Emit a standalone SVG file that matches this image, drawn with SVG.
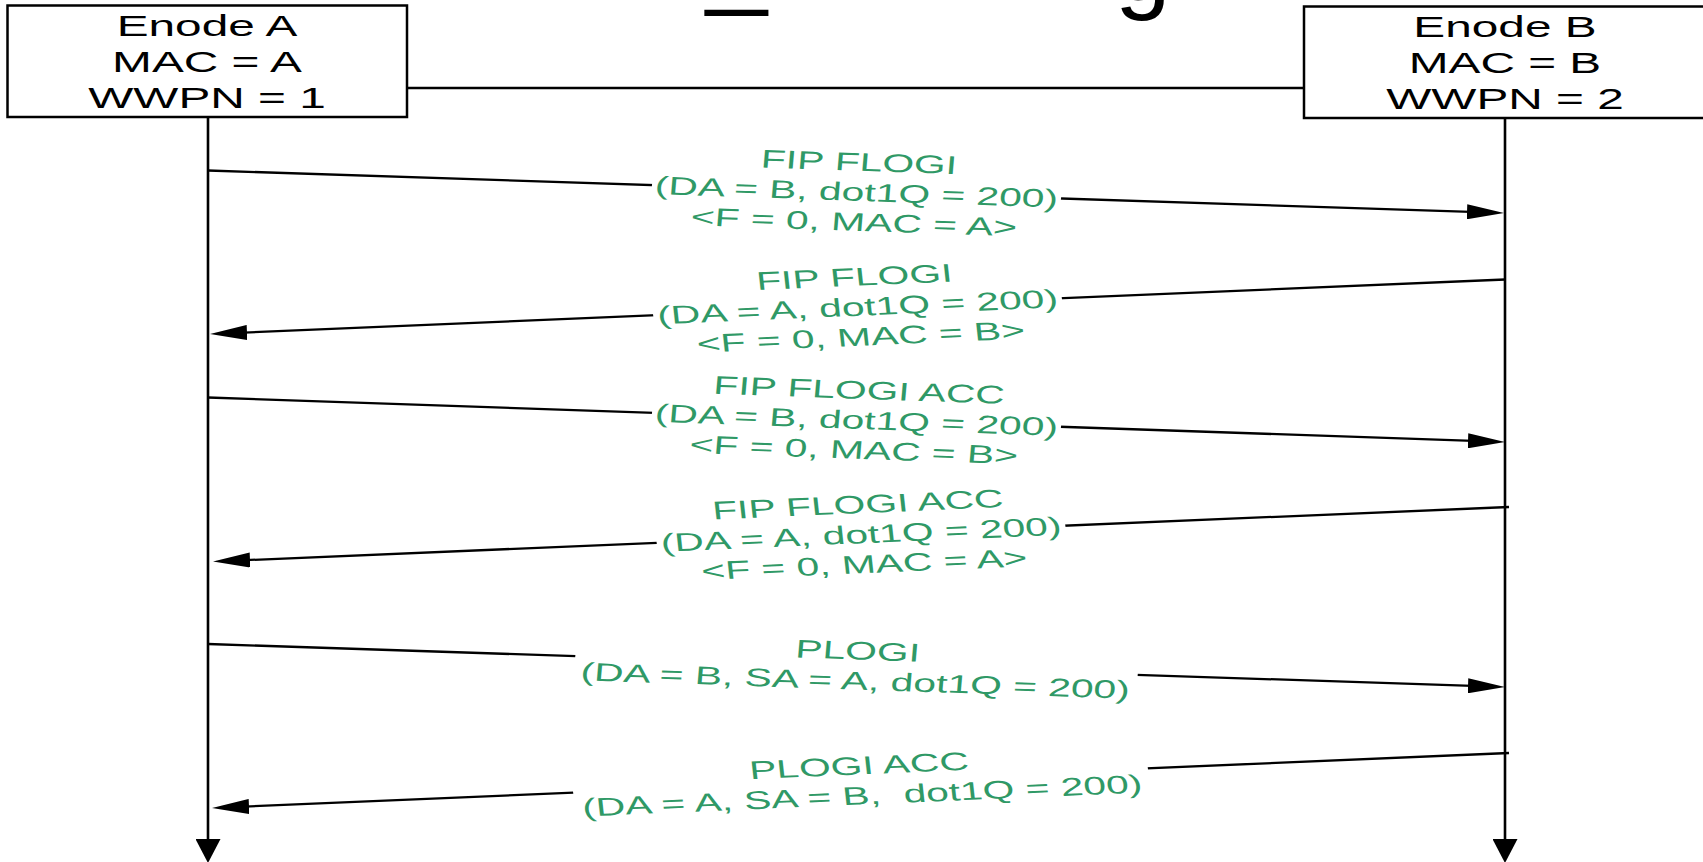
<svg xmlns="http://www.w3.org/2000/svg" width="1703" height="862" viewBox="0 0 1703 862">
<style>
.box{fill:#fff;stroke:#000;stroke-width:2.5}
.bt{font-family:"Liberation Sans",Arial,sans-serif;font-size:29.5px;text-anchor:middle;fill:#000}
.life{stroke:#000;stroke-width:2.6;fill:none;marker-end:url(#vhead)}
.link{stroke:#000;stroke-width:2.5;fill:none}
.msg{stroke:#000;stroke-width:2.3;fill:none;marker-end:url(#head)}
.lt{font-family:"Liberation Sans",Arial,sans-serif;font-size:25.5px;text-anchor:middle;fill:#2f9966}
.lbg{fill:#fff}
.title{font-family:"Liberation Sans",Arial,sans-serif;font-size:100px;fill:#000}
</style>
<defs>
<marker id="head" markerUnits="userSpaceOnUse" viewBox="0 0 37 15" markerWidth="37" markerHeight="15" refX="27" refY="7.5" orient="auto"><path d="M0,0 L37,7.5 L0,15 z" fill="#000"/></marker>
<marker id="vhead" markerUnits="userSpaceOnUse" viewBox="0 0 24 25" markerWidth="24" markerHeight="25" refX="14" refY="12.5" orient="auto"><path d="M0,0 L24,12.5 L0,25 z" fill="#000"/></marker>
</defs>
<rect width="1703" height="862" fill="#fff"/>
<g id="title-fragment">
<text class="title" transform="translate(706,-4) scale(1.1,1)" x="0" y="0">_</text>
<text class="title" transform="translate(1115,0)" x="0" y="0">g</text>
</g>
<g id="connectors">
<path class="life" d="M208,117 L208,853"/>
<path class="life" d="M1505,118 L1505,853"/>
<path class="link" d="M407,88 L1304,88"/>
<g id="msg1">
<path class="msg" d="M208,170.5 L1494,212.67"/>
<g transform="translate(856.5,191.75) scale(1.6,1) rotate(3.04)">
<rect class="lbg" x="-128" y="-44" width="256" height="90"/>
<text class="lt" x="0" y="-21">FIP FLOGI</text>
<text class="lt" x="0" y="9">(DA = B, dot1Q = 200)</text>
<text class="lt" x="0" y="39">&lt;F = 0, MAC = A&gt;</text>
</g>
</g>
<g id="msg2">
<path class="msg" d="M1505,279.5 L220,333.58"/>
<g transform="translate(857.5,306.75) scale(1.6,1) rotate(-3.9)">
<rect class="lbg" x="-128" y="-44" width="256" height="90"/>
<text class="lt" x="0" y="-21">FIP FLOGI</text>
<text class="lt" x="0" y="9">(DA = A, dot1Q = 200)</text>
<text class="lt" x="0" y="39">&lt;F = 0, MAC = B&gt;</text>
</g>
</g>
<g id="msg3">
<path class="msg" d="M208,397.5 L1495,441.66"/>
<g transform="translate(856.5,419.75) scale(1.6,1) rotate(3.18)">
<rect class="lbg" x="-128" y="-44" width="256" height="90"/>
<text class="lt" x="0" y="-21">FIP FLOGI ACC</text>
<text class="lt" x="0" y="9">(DA = B, dot1Q = 200)</text>
<text class="lt" x="0" y="39">&lt;F = 0, MAC = B&gt;</text>
</g>
</g>
<g id="msg4">
<path class="msg" d="M1509,507 L223,561.08"/>
<g transform="translate(861,534.25) scale(1.6,1) rotate(-3.9)">
<rect class="lbg" x="-128" y="-44" width="256" height="90"/>
<text class="lt" x="0" y="-21">FIP FLOGI ACC</text>
<text class="lt" x="0" y="9">(DA = A, dot1Q = 200)</text>
<text class="lt" x="0" y="39">&lt;F = 0, MAC = A&gt;</text>
</g>
</g>
<g id="msg5">
<path class="msg" d="M208,644 L1495,686.67"/>
<g transform="translate(856.5,665.5) scale(1.6,1) rotate(3.07)">
<rect class="lbg" x="-176" y="-28" width="352" height="58"/>
<text class="lt" x="0" y="-6">PLOGI</text>
<text class="lt" x="0" y="24">(DA = B, SA = A, dot1Q = 200)</text>
</g>
</g>
<g id="msg6">
<path class="msg" d="M1509,753 L222,807.58"/>
<g transform="translate(860.5,780.5) scale(1.6,1) rotate(-3.93)">
<rect class="lbg" x="-180" y="-28" width="360" height="58"/>
<text class="lt" x="0" y="-6">PLOGI ACC</text>
<text class="lt" x="0" y="24">(DA = A, SA = B,&#160; dot1Q = 200)</text>
</g>
</g>
</g>
<g id="enode-a">
<rect class="box" x="7.5" y="5.5" width="399.5" height="111.5"/>
<g transform="translate(207,0) scale(1.62,1)">
<text class="bt" x="0" y="36.5">Enode A</text>
<text class="bt" x="0" y="72.5">MAC = A</text>
<text class="bt" x="0" y="108.5">WWPN = 1</text>
</g>
</g>
<g id="enode-b">
<rect class="box" x="1304" y="6.5" width="402" height="111.5"/>
<g transform="translate(1505,0) scale(1.62,1)">
<text class="bt" x="0" y="37">Enode B</text>
<text class="bt" x="0" y="73">MAC = B</text>
<text class="bt" x="0" y="109">WWPN = 2</text>
</g>
</g>
</svg>
